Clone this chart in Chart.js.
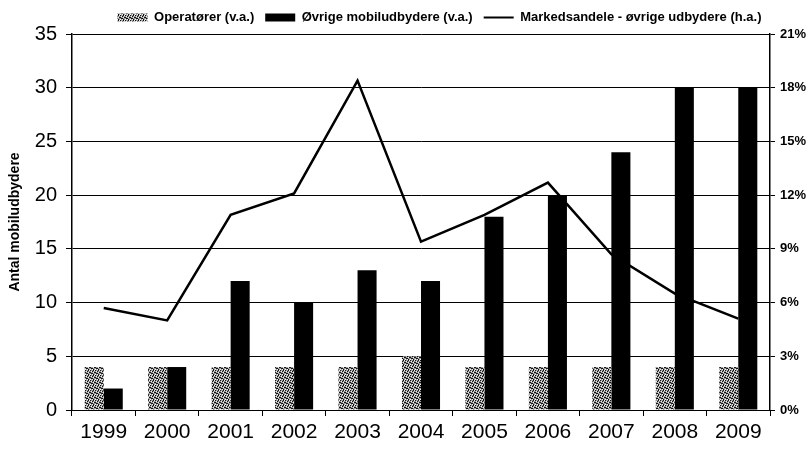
<!DOCTYPE html>
<html>
<head>
<meta charset="utf-8">
<script src="https://cdn.jsdelivr.net/npm/chart.js@4/dist/chart.umd.min.js"></script>
<style>
  html, body { margin: 0; padding: 0; background: #fff; }
  #wrap { width: 809px; height: 452px; }
</style>
</head>
<body>
<div id="wrap"><canvas id="myChart" width="809" height="452"></canvas></div>
<script>
const years = ['1999', '2000', '2001', '2002', '2003', '2004', '2005', '2006', '2007', '2008', '2009']
const operatorer = [4, 4, 4, 4, 4, 5, 4, 4, 4, 4, 4]
const ovrige = [2, 4, 12, 10, 13, 12, 18, 20, 24, 30, 30]
const markedsandel = [5.7, 5.0, 10.9, 12.1, 18.4, 9.4, 10.9, 12.7, 8.7, 6.5, 5.1]
const leftTicks = [0, 5, 10, 15, 20, 25, 30, 35]
const rightTicks = [0, 3, 6, 9, 12, 15, 18, 21]

// stippled grey fill like the scanned print
const makePattern = function () {
  const c = document.createElement('canvas')
  c.width = 5
  c.height = 5
  const p = c.getContext('2d')
  p.fillStyle = '#9a9a9a'
  p.fillRect(0, 0, 5, 5)
  p.fillStyle = '#111'
  const dark = [[0, 0], [2, 1], [4, 2], [1, 3], [3, 4], [3, 0], [0, 2], [2, 3]]
  dark.forEach(d => p.fillRect(d[0], d[1], 1, 1))
  p.fillStyle = '#f2f2f2'
  const light = [[1, 1], [4, 0], [3, 2], [0, 4], [2, 4]]
  light.forEach(d => p.fillRect(d[0], d[1], 1, 1))
  return p.createPattern(c, 'repeat')
}

// legend in the original sits a bit right of centre
const nudgeLegend = {
  id: 'nudgeLegend',
  afterLayout: function (ch) {
    ch.legend.left += 36
    ch.legend.right += 36
  }
}

const ctx = document.getElementById('myChart').getContext('2d')
const dots = makePattern()
const font = 'Liberation Sans, Arial'

const chart = new Chart(ctx, {
  type: 'bar',
  data: {
    labels: years,
    datasets: [
      {
        label: 'Operatører (v.a.)',
        data: operatorer,
        backgroundColor: dots,
        borderWidth: 0,
        yAxisID: 'y',
        categoryPercentage: 0.6,
        barPercentage: 1.0
      },
      {
        label: 'Øvrige mobiludbydere (v.a.)',
        data: ovrige,
        backgroundColor: '#000',
        borderWidth: 0,
        yAxisID: 'y',
        categoryPercentage: 0.6,
        barPercentage: 1.0
      },
      {
        type: 'line',
        label: 'Markedsandele - øvrige udbydere (h.a.)',
        data: markedsandel,
        borderColor: '#000',
        backgroundColor: '#000',
        borderWidth: 2.5,
        pointRadius: 0,
        tension: 0,
        yAxisID: 'y1'
      }
    ]
  },
  plugins: [nudgeLegend],
  options: {
    responsive: false,
    animation: false,
    layout: { padding: { top: 0, right: 2, bottom: 0, left: 0 } },
    plugins: {
      tooltip: { enabled: false },
      legend: {
        position: 'top',
        labels: {
          color: '#000',
          font: { family: font, size: 13, weight: 'bold' },
          boxWidth: 30,
          boxHeight: 8,
          usePointStyle: true,
          pointStyleWidth: 30,
          padding: 11,
          generateLabels: function (ch) {
            const items = Chart.defaults.plugins.legend.labels.generateLabels(ch)
            items.forEach((it, i) => {
              it.pointStyle = i === 2 ? 'line' : 'rect'
              it.lineWidth = i === 2 ? 2 : 0
              it.strokeStyle = '#000'
            })
            return items
          }
        }
      }
    },
    scales: {
      x: {
        offset: true,
        grid: {
          offset: true,
          drawOnChartArea: false,
          color: '#000',
          tickLength: 6,
          tickColor: '#000'
        },
        border: { color: '#000', width: 1 },
        ticks: {
          color: '#000',
          font: { family: font, size: 21 },
          padding: 4,
          maxRotation: 0
        },
        afterFit: function (s) { s.height = 42 }
      },
      y: {
        position: 'left',
        min: 0,
        max: 35,
        afterBuildTicks: function (s) { s.ticks = leftTicks.map(v => ({ value: v })) },
        grid: { color: '#000', lineWidth: 1, tickLength: 6, tickColor: '#000' },
        border: { color: '#000', width: 1.5 },
        ticks: {
          color: '#000',
          font: { family: font, size: 20 },
          padding: 9
        },
        title: {
          display: true,
          text: 'Antal mobiludbydere',
          color: '#000',
          font: { family: font, size: 14, weight: 'bold' },
          padding: { top: 7, bottom: 0 }
        },
        afterFit: function (s) { s.width = 72 }
      },
      y1: {
        position: 'right',
        min: 0,
        max: 21,
        afterBuildTicks: function (s) { s.ticks = rightTicks.map(v => ({ value: v })) },
        grid: { drawOnChartArea: false, color: '#000', tickLength: 5, tickColor: '#000' },
        border: { color: '#000', width: 1.5 },
        ticks: {
          color: '#000',
          font: { family: font, size: 13, weight: 'bold' },
          padding: 5,
          callback: function (v) { return v + '%' }
        },
        afterFit: function (s) { s.width = 37 }
      }
    }
  }
})
</script>
</body>
</html>
